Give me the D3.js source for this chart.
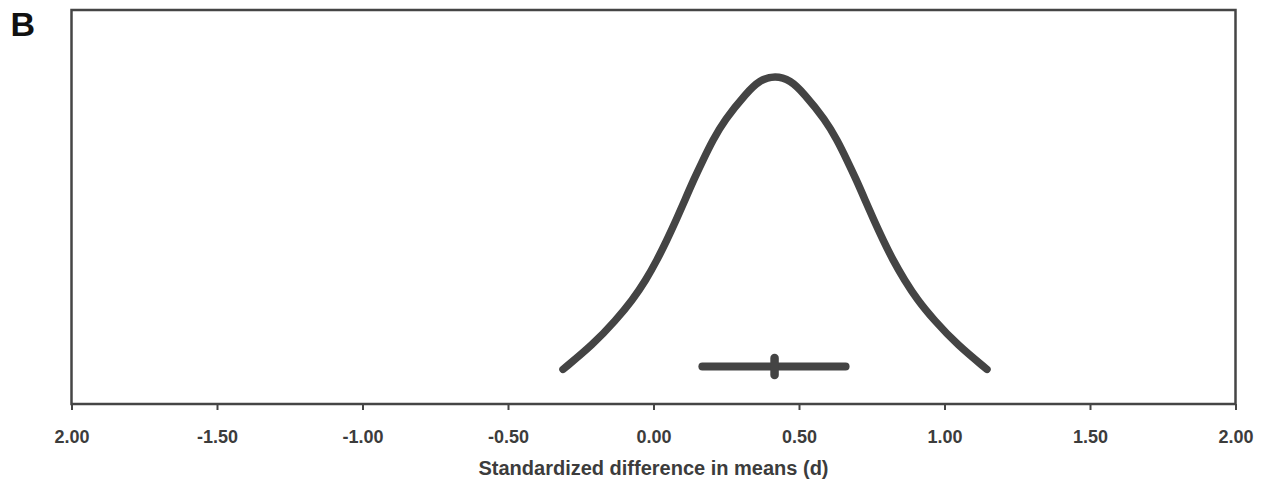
<!DOCTYPE html>
<html>
<head>
<meta charset="utf-8">
<script src="https://cdn.jsdelivr.net/npm/d3@7"></script>
<style>
  html, body { margin: 0; padding: 0; background: #fff; }
  svg { display: block; font-family: "Liberation Sans", Arial, sans-serif; }
</style>
</head>
<body>
<div id="chart"></div>
<script>
// values
var tickValues = [-2, -1.5, -1, -0.5, 0, 0.5, 1, 1.5, 2];
var tickLabels = ["2.00", "-1.50", "-1.00", "-0.50", "0.00", "0.50", "1.00", "1.50", "2.00"];

// curve: effect size d vs relative height
var curveD = [-0.311, -0.209, -0.129, -0.072, -0.026, 0.012, 0.046, 0.078, 0.108, 0.138, 0.170, 0.204, 0.244,
              0.319, 0.364, 0.418, 0.471, 0.516, 0.591, 0.631, 0.665, 0.697, 0.727, 0.757,
              0.789, 0.823, 0.862, 0.907, 0.964, 1.044, 1.146];
var curveH = [0.088, 0.150, 0.213, 0.264, 0.315, 0.365, 0.416, 0.467, 0.518, 0.569, 0.619, 0.670, 0.721,
              0.789, 0.822, 0.834, 0.822, 0.789, 0.721, 0.670, 0.619, 0.569, 0.518, 0.467,
              0.416, 0.365, 0.315, 0.264, 0.213, 0.150, 0.088];

// point estimate and 95% CI
var ciLower = 0.168;
var ciUpper = 0.660;
var pointEst = 0.416;
var ciH = 0.095;

var xLabel = "Standardized difference in means (d)";
var panelLabel = "B";

var W = 1265, H = 487;
var plotLeft = 71.5, plotRight = 1235.5, plotTop = 10, plotBottom = 404;
var ink = '#454545';

var svg = d3.select('#chart').append('svg')
    .attr('width', W)
    .attr('height', H);

var x = d3.scaleLinear().domain([-2, 2]).range([plotLeft, plotRight]);
var y = d3.scaleLinear().domain([0, 1]).range([plotBottom, plotTop]);

// axis ticks + labels
var axis = svg.append('g')
    .attr('transform', 'translate(0,' + plotBottom + ')')
    .call(d3.axisBottom(x)
        .tickValues(tickValues)
        .tickFormat(function(d, i) { return tickLabels[i]; })
        .tickSize(6));
axis.select('.domain').remove();
axis.selectAll('.tick line')
    .attr('stroke', ink)
    .attr('stroke-width', 2);
axis.selectAll('.tick text')
    .attr('y', 38.5)
    .attr('dy', null)
    .attr('fill', '#3c3c3c')
    .style('font-size', '18px')
    .style('font-weight', 'bold')
    .style('font-family', '"Liberation Sans", Arial, sans-serif');

// frame
svg.append('rect')
    .attr('x', plotLeft)
    .attr('y', plotTop)
    .attr('width', plotRight - plotLeft)
    .attr('height', plotBottom - plotTop)
    .attr('fill', 'none')
    .attr('stroke', ink)
    .attr('stroke-width', 2.5);

// distribution curve
var pts = curveD.map(function(d, i) { return [d, curveH[i]]; });
var line = d3.line()
    .x(function(p) { return x(p[0]); })
    .y(function(p) { return y(p[1]); })
    .curve(d3.curveBasis);

svg.append('path')
    .datum(pts)
    .attr('d', line)
    .attr('fill', 'none')
    .attr('stroke', '#444')
    .attr('stroke-width', 7.5)
    .attr('stroke-linecap', 'round')
    .attr('stroke-linejoin', 'round');

// CI bar
svg.append('line')
    .attr('x1', x(ciLower))
    .attr('x2', x(ciUpper))
    .attr('y1', y(ciH))
    .attr('y2', y(ciH))
    .attr('stroke', '#444')
    .attr('stroke-width', 8)
    .attr('stroke-linecap', 'round');

svg.append('line')
    .attr('x1', x(pointEst))
    .attr('x2', x(pointEst))
    .attr('y1', y(ciH) - 8.5)
    .attr('y2', y(ciH) + 8.5)
    .attr('stroke', '#444')
    .attr('stroke-width', 8.5)
    .attr('stroke-linecap', 'round');

// axis title
svg.append('text')
    .attr('x', x(0))
    .attr('y', 475)
    .attr('text-anchor', 'middle')
    .attr('fill', '#3c3c3c')
    .style('font-size', '20px')
    .style('font-weight', 'bold')
    .text(xLabel);

// panel letter
svg.append('text')
    .attr('x', 10.5)
    .attr('y', 36)
    .attr('fill', '#111')
    .style('font-size', '34px')
    .style('font-weight', 'bold')
    .text(panelLabel);
</script>
</body>
</html>
